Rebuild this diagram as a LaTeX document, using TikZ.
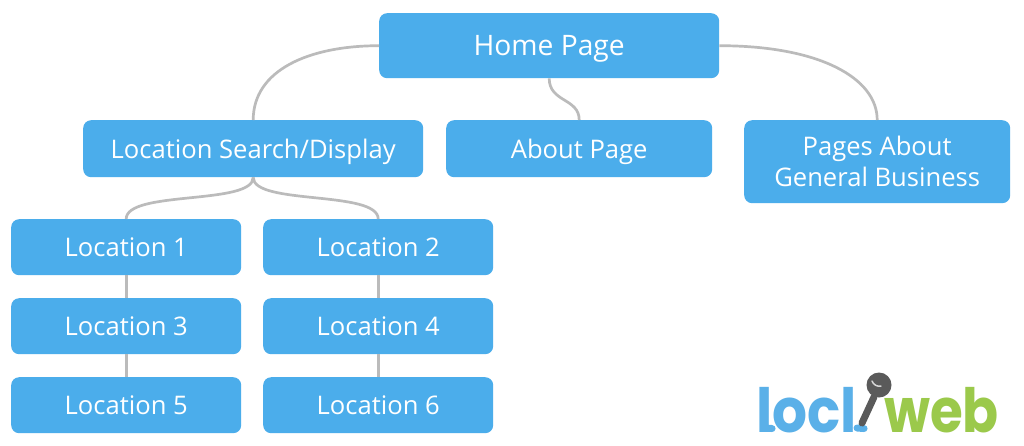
\documentclass[tikz,border=0pt]{standalone}
\usepackage{fontspec}
\setmainfont{Open Sans}
\newfontfamily\logofont{Poppins}
\definecolor{boxblue}{HTML}{4BADEB}
\definecolor{linkgrey}{HTML}{BBBBBB}
\definecolor{logoblue}{HTML}{5AB0E8}
\definecolor{logogreen}{HTML}{9BC94B}
\definecolor{micgrey}{HTML}{5A5A5A}
\tikzset{
  pagebox/.style={fill=boxblue,text=white,rounded corners=8pt,align=center,inner sep=0pt,font=\fontsize{25.6}{31}\selectfont},
  oneline/.style={text height=19pt,text depth=0pt},
  homeline/.style={oneline,font=\fontsize{28.2}{31}\selectfont},
  link/.style={draw=linkgrey,line width=2.7pt},
  logotext/.style={anchor=base west,inner sep=0pt,font=\logofont\bfseries\fontsize{61}{61}\selectfont},
  logotail/.style={draw=logoblue,line width=7pt,line cap=round},
}
\newcommand{\boxat}[7][oneline]{\node[pagebox,#1,minimum width=#5 pt,minimum height=#6 pt,anchor=north west] (#2) at (#3,#4) {#7};}
\begin{document}
\begin{tikzpicture}[x=1pt,y=-1pt]
\useasboundingbox (0,0) rectangle (1024,445);
\fill[white] (0,0) rectangle (1024,445);
\boxat[homeline]{home}{379}{13}{340}{65}{Home Page}
\boxat{search}{83}{120}{340}{57}{Location Search/Display}
\boxat{about}{446}{120}{266}{57}{About Page}
\boxat[]{pages}{744}{120}{266}{83}{Pages About\\General Business}
\boxat{locA}{11}{219}{230}{56}{Location 1}
\boxat{locB}{263}{219}{230}{56}{Location 2}
\boxat{locC}{11}{298}{230}{56}{Location 3}
\boxat{locD}{263}{298}{230}{56}{Location 4}
\boxat{locE}{11}{377}{230}{56}{Location 5}
\boxat{locF}{263}{377}{230}{56}{Location 6}
\draw[link] (home.west) .. controls +(-70,0) and +(0,-50) .. (search.north);
\draw[link] (home.east) .. controls +(100,0) and +(0,-42) .. (pages.north);
\draw[link] (home.south) .. controls +(0,24) and +(0,-22) .. (about.north);
\draw[link] (search.south) .. controls +(0,28) and +(0,-29) .. (locA.north);
\draw[link] (search.south) .. controls +(0,28) and +(0,-29) .. (locB.north);
\draw[link] (locA.south) -- (locC.north);
\draw[link] (locC.south) -- (locE.north);
\draw[link] (locB.south) -- (locD.north);
\draw[link] (locD.south) -- (locF.north);
\node[logotext,text=logoblue] (logoA) at (756,432) {\scalebox{0.9}[1]{locl}};
\node[logotext,text=logogreen] (logoB) at (884,432) {\scalebox{0.87}[1]{web}};
\draw[logotail] (765,428) -- (772,428.5);
\draw[logotail] (857,428) -- (864,428.5);
\draw[micgrey,line width=7pt,line cap=round] (862,423) -- (874,397);
\fill[micgrey] (879,385) circle (12.5);
\draw[white!75!micgrey,line width=1.5pt,line cap=round] (872,381) arc (160:80:8);
\end{tikzpicture}
\end{document}
